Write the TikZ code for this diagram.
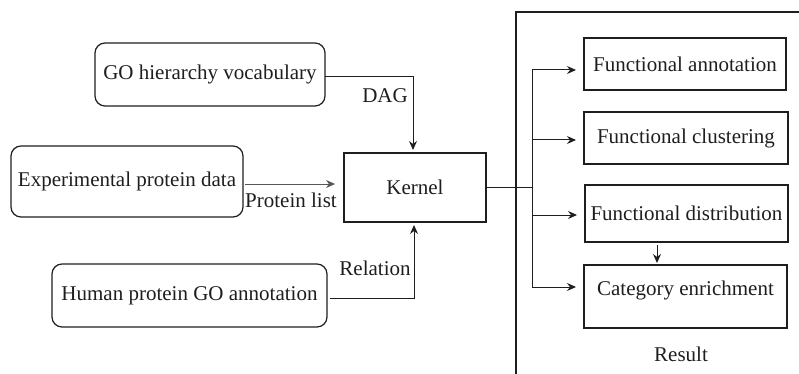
\documentclass[tikz,border=0pt]{standalone}
\usepackage{fontspec}
\setmainfont{Liberation Serif}
\usetikzlibrary{arrows.meta,calc}
\definecolor{ink}{HTML}{1E1E1E}
\definecolor{soft}{HTML}{555555}
\begin{document}
\begin{tikzpicture}[x=1pt,y=-1pt,
  font=\fontsize{21}{25}\selectfont, text=ink,
  rbox/.style={draw=ink, line width=1.2pt, rounded corners=10pt,
    anchor=north west, inner sep=0pt, outer sep=0pt},
  sbox/.style={draw=ink, line width=2pt,
    anchor=north west, inner sep=0pt, outer sep=0pt},
  wire/.style={draw=ink, line width=1pt},
  arr/.style={wire, -{Stealth[length=9pt,width=8pt,inset=3pt]}},
  lbl/.style={inner sep=0pt}]
\useasboundingbox (0,0) rectangle (799,374);

% input boxes
\node[rbox, minimum width=230pt, minimum height=63pt] (go) at (95,43) {GO hierarchy vocabulary};
\node[rbox, minimum width=232pt, minimum height=71pt] (exp) at (11,146) {Experimental protein data};
\node[rbox, minimum width=275pt, minimum height=63pt] (hum) at (52,264) {Human protein GO annotation};

% kernel
\node[sbox, minimum width=142pt, minimum height=69pt] (ker) at (344,153) {Kernel};

% result boxes
\node[sbox, minimum width=202pt, minimum height=52pt] (fa) at (584,38) {Functional annotation};
\node[sbox, minimum width=204pt, minimum height=52pt] (fc) at (584,112) {Functional clustering};
\node[sbox, minimum width=203pt, minimum height=57pt] (fd) at (585,185) {Functional distribution};
\node[sbox, minimum width=203pt, minimum height=63pt, text depth=16pt] (ce) at (584,265) {Category enrichment};

% divider of the result area
\draw[ink, line width=1.2pt] (516,374) -- (516,12) -- (799,12);
\node[lbl] (res) at (681,354) {Result};

% inputs into the kernel
\draw[arr] ($(go.east)+(0,2.5)$) -| ($(ker.north)+(-2,-3)$);
\node[lbl] (dag) at (385,96) {DAG};
\draw[arr, draw=soft, line width=0.8pt] ($(exp.east)+(2,2.5)$) -- ($(exp.east -| ker.west)+(-9,2.5)$);
\node[lbl] (pl) at (291,200) {Protein list};
\draw[arr] ($(hum.east)+(3,2.5)$) -| ($(ker.south)+(-1,3)$);
\node[lbl] (rel) at (375,268) {Relation};

% kernel fan-out to the results
\path (ker.east) ++(46,0) coordinate (bus);
\coordinate (b1) at (532,70);
\coordinate (b2) at (532,140);
\coordinate (b3) at (532,215);
\coordinate (b4) at (532,287);
\draw[wire] (ker.east) -- (bus);
\draw[wire] (b1) -- (b4);
\draw[arr, shorten >=8pt] (b1) -- (fa.west |- b1);
\draw[arr, shorten >=8pt] (b2) -- (fc.west |- b2);
\draw[arr, shorten >=8pt] (b3) -- (fd.west |- b3);
\draw[arr, shorten >=8pt] (b4) -- (ce.west |- b4);

% distribution feeds enrichment
\coordinate (dx) at (657,0);
\draw[arr, shorten <=3pt, shorten >=2pt] (fd.south -| dx) -- (ce.north -| dx);
\end{tikzpicture}
\end{document}
